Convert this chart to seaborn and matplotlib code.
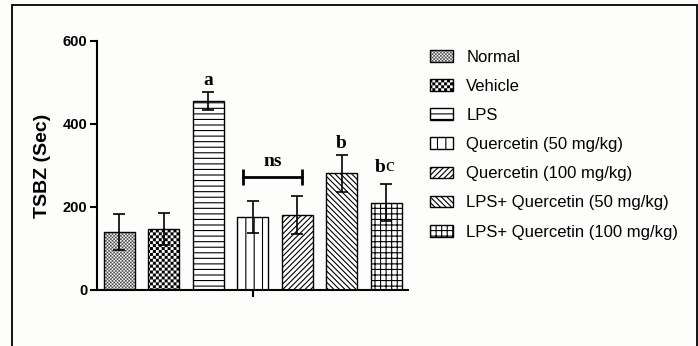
import warnings
import numpy as np
import matplotlib
matplotlib.use('Agg')
import matplotlib.pyplot as plt
import matplotlib.hatch as mhatch
from matplotlib.colors import to_rgba
from matplotlib.path import Path
from matplotlib.patches import Rectangle
import seaborn as sns
import pandas as pd

groups = ['Normal', 'Vehicle', 'LPS', 'Quercetin (50 mg/kg)', 'Quercetin (100 mg/kg)',
          'LPS+ Quercetin (50 mg/kg)', 'LPS+ Quercetin (100 mg/kg)']
tsbz_mean = [140, 147, 455, 175, 181, 281, 210]
tsbz_sd = [43, 38, 22, 39, 46, 44, 45]
sig_labels = ['', '', 'a', '', '', 'b', 'b']
# 'c' = checkerboard (custom pattern registered below)
hatches = ['c' * 30, 'c' * 17, '---', '||', '//////', '\\' * 6, '+++']
hatch_colors = ['#505050', 'black', 'black', 'black', 'black', 'black', 'black']


class CheckerHatch(mhatch.HatchPatternBase):
    """checkerboard fill, 2 cells per inch for each 'c'"""

    def __init__(self, hatch, density):
        self.n = hatch.count('c') * 2
        self.num_vertices = (self.n * self.n // 2) * 5 if self.n else 0

    def set_vertices_and_codes(self, vertices, codes):
        s = 1.0 / self.n
        sq = np.array([[0, 0], [s, 0], [s, s], [0, s], [0, 0]])
        parts = [sq + [i * s, j * s] for i in range(self.n) for j in range(self.n)
                 if (i + j) % 2 == 0]
        vertices[:] = np.concatenate(parts)
        codes[:] = np.tile([Path.MOVETO, Path.LINETO, Path.LINETO, Path.LINETO,
                            Path.CLOSEPOLY], len(parts))


mhatch._hatch_types.append(CheckerHatch)
warnings.filterwarnings('ignore')

sns.set_style('ticks')
plt.rcParams['font.family'] = ['Liberation Sans', 'DejaVu Sans']
plt.rcParams['hatch.linewidth'] = 0.8
plt.rcParams['text.color'] = 'black'
plt.rcParams['xtick.color'] = 'black'
plt.rcParams['ytick.color'] = 'black'
plt.rcParams['axes.labelcolor'] = 'black'

fig = plt.figure(figsize=(6.98, 3.46), dpi=100, facecolor='#fdfdfb')
ax = fig.add_axes([0.139, 0.162, 0.446, 0.72])
ax.set_facecolor('#fdfdfb')

df = pd.DataFrame({'group': groups, 'tsbz': tsbz_mean})
sns.barplot(data=df, x='group', y='tsbz', color='white', saturation=1, width=0.7,
            edgecolor='black', linewidth=1.0, errorbar=None, ax=ax)


def thin_checker(patch):
    if 'c' in (patch.get_hatch() or '') and hasattr(patch, 'set_hatch_linewidth'):
        patch.set_hatch_linewidth(0.05)


bars = list(ax.patches)
for bar, h, hc in zip(bars, hatches, hatch_colors):
    bar.set_hatch(h)
    bar.set_facecolor('white')
    bar._hatch_color = to_rgba(hc)
    thin_checker(bar)

# mean +/- SD
ax.errorbar(range(len(groups)), tsbz_mean, yerr=tsbz_sd, fmt='none', ecolor='black',
            elinewidth=1.2, capsize=4.5, capthick=1.2, zorder=5)

ax.set_xlim(-0.5, 6.5)
ax.set_ylim(0, 600)
ax.set_yticks([0, 200, 400, 600])
ax.set_xticks([3])
ax.set_xticklabels([''])
ax.set_xlabel('')
ax.set_ylabel('TSBZ (Sec)', fontsize=14, fontweight='bold', labelpad=8)
ax.tick_params(direction='out', length=5, width=1.5, labelsize=10.5, pad=2)
for lab in ax.get_yticklabels():
    lab.set_fontweight('bold')
for s in ['left', 'bottom']:
    ax.spines[s].set_linewidth(1.5)
    ax.spines[s].set_color('black')
sns.despine(ax=ax)

# significance letters
serif = dict(family='Liberation Serif', weight='bold', fontsize=14, ha='center', va='bottom')
for i, lab in enumerate(sig_labels):
    if lab and i != 6:
        ax.text(i, tsbz_mean[i] + tsbz_sd[i] + 7, lab, **serif)
ax.text(5.87, tsbz_mean[6] + tsbz_sd[6] + 20, 'b', **serif)
ax.text(6.07, tsbz_mean[6] + tsbz_sd[6] + 22, 'c', family='Liberation Serif',
        fontsize=14, ha='center', va='bottom')

# ns bracket between the two quercetin groups
ax.plot([2.78, 4.12], [272, 272], color='black', lw=2)
ax.vlines([2.78, 4.12], 252, 292, color='black', lw=2)
ax.text(3.45, 290, 'ns', **serif)

leg = fig.legend(bars, groups, loc='upper left', bbox_to_anchor=(0.594, 0.90),
                 frameon=False, fontsize=12, handlelength=1.4, handleheight=0.7,
                 labelspacing=0.85, handletextpad=0.8)
for hnd, hc in zip(leg.legend_handles, hatch_colors):
    hnd._hatch_color = to_rgba(hc)
    thin_checker(hnd)

# outer frame of the figure panel
fig.patches.append(Rectangle((12 / 698, -0.05), 685 / 698, 1 - 5 / 346 + 0.05,
                             transform=fig.transFigure, fill=False, edgecolor='black',
                             lw=1.3, figure=fig))

fig.savefig('out.png', dpi=100, facecolor=fig.get_facecolor())
